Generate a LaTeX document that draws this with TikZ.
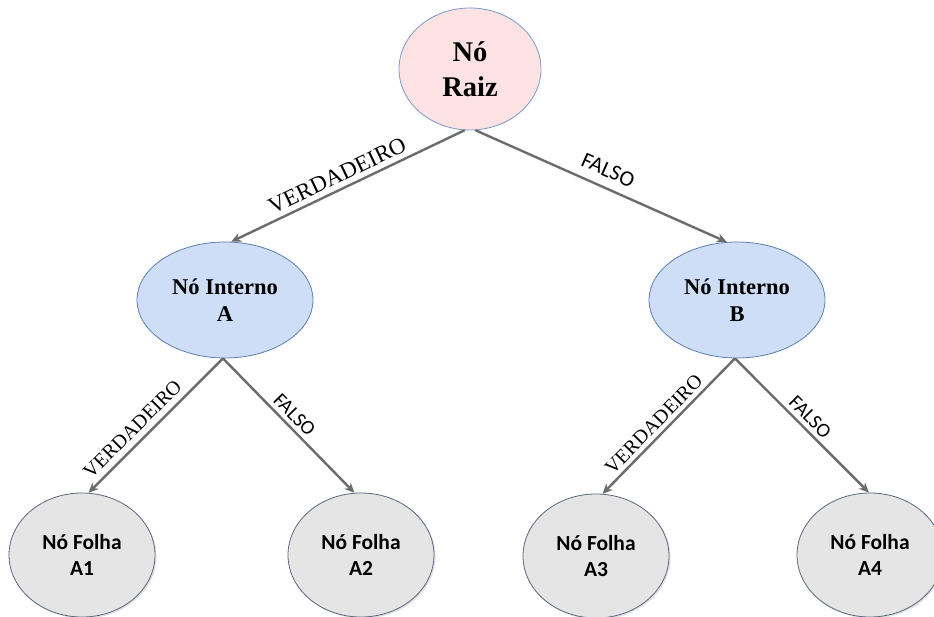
\documentclass[tikz,border=0pt]{standalone}
\usepackage{fontspec}
\setmainfont{Liberation Serif}
\newfontfamily\calfont{Carlito}
\usetikzlibrary{arrows.meta,shapes.geometric,shadows}

\definecolor{rootfill}{RGB}{252,226,226}
\definecolor{rootline}{RGB}{122,154,200}
\definecolor{innerfill}{RGB}{206,222,246}
\definecolor{innerline}{RGB}{92,126,180}
\definecolor{leaffill}{RGB}{229,229,229}
\definecolor{leafline}{RGB}{92,104,126}
\definecolor{linkgray}{RGB}{108,108,108}

\tikzset{
  rootnode/.style={ellipse, draw=rootline, line width=0.8pt, fill=rootfill,
    minimum width=142pt, minimum height=122pt, inner sep=0pt, align=center,
    font=\fontsize{28.5}{35}\selectfont\bfseries},
  innernode/.style={ellipse, draw=innerline, line width=0.8pt, fill=innerfill,
    minimum width=176pt, minimum height=116pt, inner sep=0pt, align=center,
    font=\fontsize{22.5}{27}\selectfont\bfseries},
  leafnode/.style={ellipse, draw=leafline, line width=0.8pt, fill=leaffill,
    minimum width=146pt, minimum height=124pt, inner sep=0pt, align=center,
    font=\calfont\fontsize{21.5}{26}\selectfont\bfseries,
    general shadow={shadow xshift=1.5pt, shadow yshift=-1.5pt, fill=black, opacity=0.12}},
  link/.style={draw=linkgray, line width=2.4pt, -{Stealth[length=10pt,width=9pt]}},
  truebig/.style={sloped, above, inner sep=5pt, font=\fontsize{23}{23}\selectfont},
  falsebig/.style={sloped, above, inner sep=9pt, font=\calfont\fontsize{22}{22}\selectfont},
  truesmall/.style={sloped, above, inner sep=4pt, font=\fontsize{20}{20}\selectfont},
  falsesmall/.style={sloped, above, inner sep=4pt, font=\calfont\fontsize{20}{20}\selectfont},
}

\begin{document}
\begin{tikzpicture}[x=1pt,y=-1pt]
  \useasboundingbox (0,0) rectangle (934,617);
  \clip (0,0) rectangle (934,617);

  % decision nodes
  \node[rootnode]  (root) at (470,69)  {Nó\\Raiz};
  \node[innernode] (intA) at (225,300) {Nó Interno\\A};
  \node[innernode] (intB) at (737,300) {Nó Interno\\B};

  % leaves
  \node[leafnode] (leafA1) at (82,555)  {Nó Folha\\A1};
  \node[leafnode] (leafA2) at (361,555) {Nó Folha\\A2};
  \node[leafnode] (leafA3) at (596,556) {Nó Folha\\A3};
  \node[leafnode] (leafA4) at (870,555) {Nó Folha\\A4};

  % branches from the root
  \draw[link] (root.-95) -- node[truebig, pos=0.52] {VERDADEIRO} (intA.84);
  \draw[link] (root.-85) -- node[falsebig, pos=0.5] {FALSO} (intB.100);

  % branches from internal node A
  \draw[link] (intA.-92) -- node[truesmall, pos=0.6, inner sep=6pt] {VERDADEIRO} (leafA1.84);
  \draw[link] (intA.-92) -- node[falsesmall, pos=0.48] {FALSO} (leafA2.96);

  % branches from internal node B
  \draw[link] (intB.-92) -- node[truesmall, pos=0.55] {VERDADEIRO} (leafA3.84);
  \draw[link] (intB.-92) -- node[falsesmall, pos=0.5] {FALSO} (leafA4.91);
\end{tikzpicture}
\end{document}
